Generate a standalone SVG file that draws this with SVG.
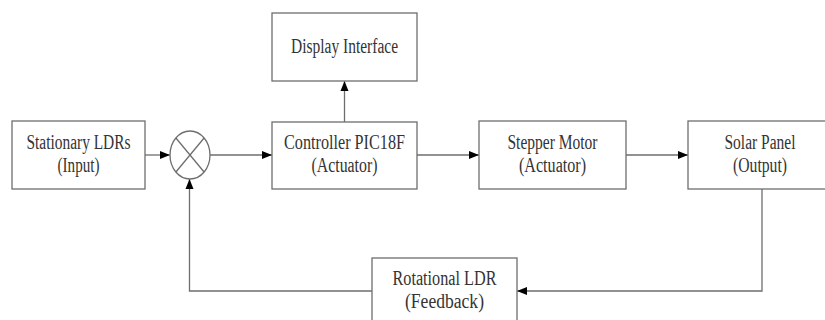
<svg xmlns="http://www.w3.org/2000/svg" width="825" height="320" viewBox="0 0 825 320">
<style>
.box{fill:#fff;stroke:#6e6e6e;stroke-width:1.3}
.ln{fill:none;stroke:#6e6e6e;stroke-width:1.3}
.t{font-family:'Liberation Serif','DejaVu Serif',serif;font-size:20px;fill:#333;text-anchor:middle}
</style>
<defs>
<marker id="ah" markerUnits="userSpaceOnUse" markerWidth="10" markerHeight="10" viewBox="0 0 10 10" refX="10" refY="5" orient="auto">
<path d="M0,1 L10,5 L0,9 z" fill="#000"/>
</marker>
</defs>
<rect width="825" height="320" fill="#fff"/>
<g id="connectors">
<line class="ln" x1="145" y1="155" x2="170" y2="155" marker-end="url(#ah)"/>
<line class="ln" x1="210" y1="155" x2="272" y2="155" marker-end="url(#ah)"/>
<line class="ln" x1="344.5" y1="122" x2="344.5" y2="81" marker-end="url(#ah)"/>
<line class="ln" x1="417" y1="155" x2="479" y2="155" marker-end="url(#ah)"/>
<line class="ln" x1="626" y1="155" x2="688" y2="155" marker-end="url(#ah)"/>
<polyline class="ln" points="762,189 762,291 517,291" marker-end="url(#ah)"/>
<polyline class="ln" points="372,291 189.5,291 189.5,179" marker-end="url(#ah)"/>
</g>
<g id="stationary">
<rect class="box" x="12" y="121" width="133" height="68"/>
<text class="t" font-family="Liberation Serif, serif" x="78.5" y="149" textLength="104" lengthAdjust="spacingAndGlyphs">Stationary LDRs</text>
<text class="t" font-family="Liberation Serif, serif" x="78.5" y="172" textLength="42" lengthAdjust="spacingAndGlyphs">(Input)</text>
</g>
<g id="summing">
<ellipse cx="190" cy="155" rx="20" ry="24" fill="#fff" stroke="#6e6e6e" stroke-width="1.3"/>
<line class="ln" x1="175.9" y1="138" x2="204.1" y2="172"/>
<line class="ln" x1="204.1" y1="138" x2="175.9" y2="172"/>
</g>
<g id="display">
<rect class="box" x="272" y="13" width="145" height="68"/>
<text class="t" font-family="Liberation Serif, serif" x="344.5" y="53" textLength="107" lengthAdjust="spacingAndGlyphs">Display Interface</text>
</g>
<g id="controller">
<rect class="box" x="272" y="122" width="145" height="67"/>
<text class="t" font-family="Liberation Serif, serif" x="344.5" y="149" textLength="121" lengthAdjust="spacingAndGlyphs">Controller PIC18F</text>
<text class="t" font-family="Liberation Serif, serif" x="344.5" y="172" textLength="66" lengthAdjust="spacingAndGlyphs">(Actuator)</text>
</g>
<g id="stepper">
<rect class="box" x="479" y="121" width="147" height="68"/>
<text class="t" font-family="Liberation Serif, serif" x="552.5" y="149" textLength="90" lengthAdjust="spacingAndGlyphs">Stepper Motor</text>
<text class="t" font-family="Liberation Serif, serif" x="552.5" y="172" textLength="67" lengthAdjust="spacingAndGlyphs">(Actuator)</text>
</g>
<g id="solar">
<rect class="box" x="688" y="121" width="144" height="68"/>
<text class="t" font-family="Liberation Serif, serif" x="760" y="149" textLength="71" lengthAdjust="spacingAndGlyphs">Solar Panel</text>
<text class="t" font-family="Liberation Serif, serif" x="760" y="172" textLength="54" lengthAdjust="spacingAndGlyphs">(Output)</text>
</g>
<g id="rotational">
<rect class="box" x="372" y="258" width="145" height="70"/>
<text class="t" font-family="Liberation Serif, serif" x="444.5" y="285" textLength="104" lengthAdjust="spacingAndGlyphs">Rotational LDR</text>
<text class="t" font-family="Liberation Serif, serif" x="444.5" y="308" textLength="79" lengthAdjust="spacingAndGlyphs">(Feedback)</text>
</g>
</svg>
